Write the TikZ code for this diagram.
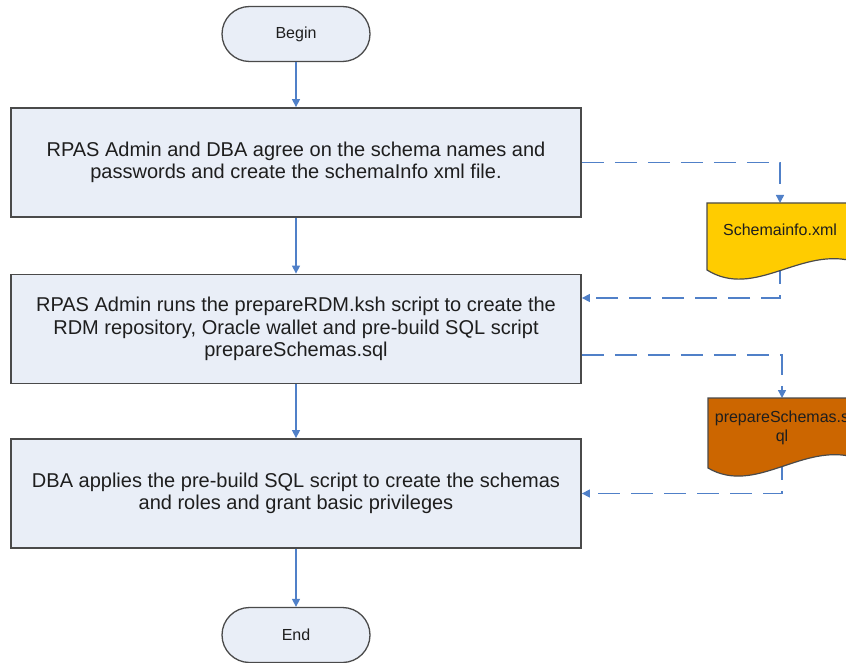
\documentclass[tikz,border=0pt]{standalone}
\usepackage{fontspec}
\setmainfont{Liberation Sans}
\usetikzlibrary{arrows.meta}
\definecolor{boxfill}{HTML}{E9EEF7}
\definecolor{flow}{HTML}{5080C8}
\definecolor{docyellow}{HTML}{FFCC00}
\definecolor{docorange}{HTML}{CC6600}
\definecolor{edgegray}{HTML}{4A4A4A}
\definecolor{txt}{HTML}{1E1E1E}
\begin{document}
\begin{tikzpicture}[x=1pt,y=-1pt,
  stepbox/.style={draw=edgegray, line width=1.8pt, fill=boxfill, minimum width=570pt,
    minimum height=109pt, align=center, text=txt, inner sep=0pt,
    font=\fontsize{20}{22.5}\selectfont},
  term/.style={draw=edgegray, line width=1.3pt, fill=boxfill, rounded corners=27.5pt,
    minimum width=148pt, minimum height=55pt, text=txt, inner sep=0pt,
    font=\fontsize{16}{18}\selectfont},
  flowarrow/.style={draw=flow, line width=1.4pt, -{Triangle[length=8pt,width=8pt]}},
  dataarrow/.style={flowarrow, dash pattern=on 22pt off 11pt},
  docshape/.style={draw=edgegray, line width=1.2pt},
  doclabel/.style={font=\fontsize{16}{19}\selectfont, align=center, text=txt, inner sep=0pt}
]
\useasboundingbox (0,0) rectangle (846,663);
\clip (0,0) rectangle (846,663);

% process nodes
\node[term] (begin) at (296,34) {Begin};
\node[stepbox] (s1) at (296,162.5) {RPAS Admin and DBA agree on the schema names and\\passwords and create the schemaInfo xml file.};
\node[stepbox] (s2) at (296,329) {RPAS Admin runs the prepareRDM.ksh script to create the\\RDM repository, Oracle wallet and pre-build SQL script\\prepareSchemas.sql};
\node[stepbox] (s3) at (296,493.5) {DBA applies the pre-build SQL script to create the schemas\\and roles and grant basic privileges};
\node[term] (end) at (296,635) {End};

% document anchor points
\coordinate (d1top) at (780,203);
\coordinate (d1in) at (780,262);
\coordinate (d2top) at (782,398);
\coordinate (d2in) at (782,458);

% main flow
\draw[flowarrow] (begin.south) -- (s1.north);
\draw[flowarrow] (s1.south) -- (s2.north);
\draw[flowarrow] (s2.south) -- (s3.north);
\draw[flowarrow] (s3.south) -- (end.north);

% data flow (dashed)
\draw[dataarrow] (s1.east) -| (d1top);
\draw[dataarrow] (d1in) |- ([yshift=31pt]s2.east);
\draw[dataarrow] ([yshift=-26pt]s2.east) -| (d2top);
\draw[dataarrow] (d2in) |- (s3.east);

% documents
\path[docshape, fill=docyellow] (707,203) -- (856,203) -- (856,262)
  .. controls (802,245) and (755,300) .. (707,270) -- cycle;
\node[doclabel] (doc1) at (780,230) {Schemainfo.xml};

\begin{scope}[shift={(1,196)}]
\path[docshape, fill=docorange] (707,202) -- (856,202) -- (856,262)
  .. controls (802,245) and (755,300) .. (707,272) -- cycle;
\end{scope}
\node[doclabel] (doc2) at (782,427.5) {prepareSchemas.s\\ql};
\end{tikzpicture}
\end{document}
